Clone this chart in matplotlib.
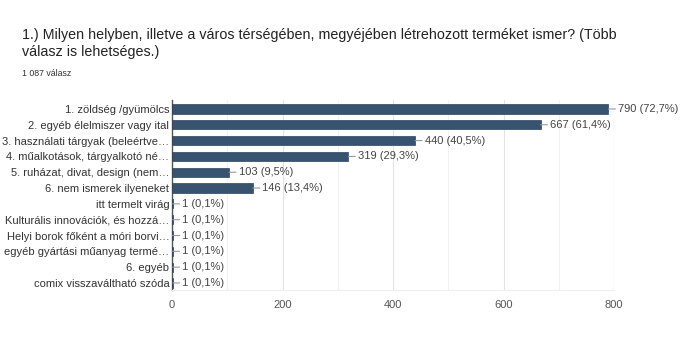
import matplotlib.pyplot as plt
from matplotlib.ticker import MultipleLocator

plt.rcParams["font.family"] = ["Liberation Sans", "DejaVu Sans"]

title_lines = [
    "1.) Milyen helyben, illetve a város térségében, megyéjében létrehozott terméket ismer? (Több",
    "válasz is lehetséges.)",
]
subtitle = "1 087 válasz"

categories = [
    "1. zöldség /gyümölcs",
    "2. egyéb élelmiszer vagy ital",
    "3. használati tárgyak (beleértve…",
    "4. műalkotások, tárgyalkotó né…",
    "5. ruházat, divat, design (nem…",
    "6. nem ismerek ilyeneket",
    "itt termelt virág",
    "Kulturális innovációk, és hozzá…",
    "Helyi borok főként a móri borvi…",
    "egyéb gyártási műanyag termé…",
    "6. egyéb",
    "comix visszaváltható szóda",
]
counts = [790, 667, 440, 319, 103, 146, 1, 1, 1, 1, 1, 1]
percents = ["72,7", "61,4", "40,5", "29,3", "9,5", "13,4", "0,1", "0,1", "0,1", "0,1", "0,1", "0,1"]

fig = plt.figure(figsize=(6.83, 3.47), dpi=100)
fig.patch.set_facecolor("white")
ax = fig.add_axes([0.252, 0.164, 0.647, 0.548])

y = list(range(len(categories)))
ax.barh(y, counts, height=0.58, color="#38536f", edgecolor="#2c4460", lw=0.5, zorder=3)

# value labels with a short grey leader line from the bar end
for yi, c, p in zip(y, counts, percents):
    ax.annotate(
        "{} ({}%)".format(c, p),
        xy=(c, yi), xytext=(7, 0), textcoords="offset points",
        va="center", ha="left", fontsize=8, color="#444444",
        arrowprops=dict(arrowstyle="-", color="#999999", lw=0.8,
                        shrinkA=0, shrinkB=0),
    )

ax.set_yticks(y)
ax.set_yticklabels(categories, fontsize=8, color="#333333")
ax.set_ylim(11.45, -0.57)
ax.set_xlim(0, 800)
ax.xaxis.set_major_locator(MultipleLocator(200))
ax.xaxis.set_minor_locator(MultipleLocator(100))
ax.tick_params(axis="x", labelsize=8, colors="#555555", length=0, pad=7)
ax.tick_params(axis="y", length=0, pad=2)
ax.tick_params(which="minor", length=0)
ax.grid(axis="x", which="major", color="#e4e4e4", lw=0.8, zorder=0)
ax.grid(axis="x", which="minor", color="#f2f2f2", lw=0.8, zorder=0)

for s in ["top", "right"]:
    ax.spines[s].set_visible(False)
ax.spines["bottom"].set_color("#eeeeee")
ax.spines["left"].set_color("#555555")
ax.spines["left"].set_linewidth(1.0)
ax.axvline(800, color="#e4e4e4", lw=0.8, zorder=0)

fig.text(0.032, 0.899, title_lines[0], fontsize=10.3, color="#222222", va="center")
fig.text(0.032, 0.850, title_lines[1], fontsize=10.3, color="#222222", va="center")
fig.text(0.032, 0.787, subtitle, fontsize=6.3, color="#333333", va="center")

fig.savefig("out.png", dpi=100)
